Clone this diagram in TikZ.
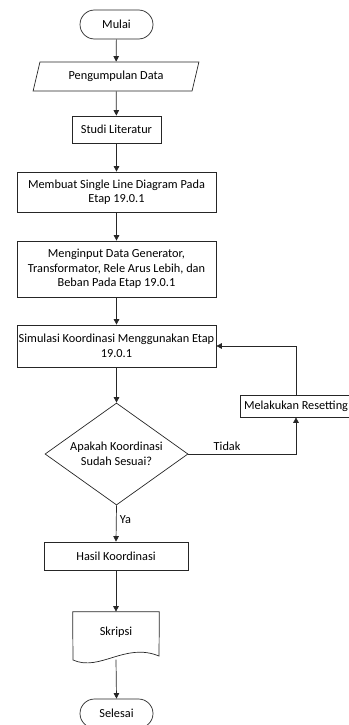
\documentclass[tikz,border=0pt]{standalone}
\usepackage{fontspec}
\setmainfont{Carlito}
\usetikzlibrary{arrows.meta,shapes.geometric}
\begin{document}
\begin{tikzpicture}[x=1pt,y=-1pt,
  font=\fontsize{12.3}{14.5}\selectfont,
  line width=0.7pt, draw=black!85,
  box/.style={draw, rectangle, align=center, inner sep=1pt},
  term/.style={draw, rectangle, rounded corners=14.5pt, minimum width=73pt, minimum height=29pt},
  io/.style={draw, trapezium, trapezium left angle=71, trapezium right angle=109, trapezium stretches=true, minimum width=166pt, minimum height=29pt, inner sep=1pt},
  dec/.style={draw, diamond, shape aspect=1.4, minimum width=143pt, minimum height=102pt, align=center, inner sep=0pt},
  arr/.style={-{Triangle[length=5.5pt,width=5.5pt]}, draw=black!85}
]
\useasboundingbox (0,0) rectangle (348,725);
\node[term] (mulai) at (116.5,24.5) {Mulai};
\node[io] (data) at (116,76.5) {Pengumpulan Data};
\node[box, minimum width=89pt, minimum height=27pt] (studi) at (116.5,129.5) {Studi Literatur};
\node[box, minimum width=199pt, minimum height=40pt] (membuat) at (116.5,192) {Membuat Single Line Diagram Pada\\Etap 19.0.1};
\node[box, minimum width=199pt, minimum height=56pt] (input) at (116.5,269) {Menginput Data Generator,\\Transformator, Rele Arus Lebih, dan\\Beban Pada Etap 19.0.1};
\node[box, minimum width=199pt, minimum height=42pt] (sim) at (116.5,346) {Simulasi Koordinasi Menggunakan Etap\\19.0.1};
\node[dec] (cek) at (116.5,454) {Apakah Koordinasi\\Sudah Sesuai?};
\node[box, minimum width=112pt, minimum height=22pt] (reset) at (296,406) {Melakukan Resetting};
\node[box, minimum width=144pt, minimum height=28pt] (hasil) at (116,556) {Hasil Koordinasi};
% document shape
\node[minimum width=86pt, minimum height=40pt, inner sep=0pt] (skripsi) at (116,632) {Skripsi};
\draw (skripsi.north west) -- (skripsi.north east) -- (159,656)
  .. controls (125,642) and (100,672) .. (73,660) -- cycle;
\coordinate (skripsiB) at (116,659.5);
\node[term] (selesai) at (116.5,713.5) {Selesai};

\draw[arr] (mulai) -- (data);
\draw[arr] (data) -- (studi);
\draw[arr] (studi) -- (membuat);
\draw[arr] (membuat) -- (input);
\draw[arr] (input) -- (sim);
\draw[arr] (sim) -- (cek);
\draw[arr] (cek.east) -- node[above, pos=0.36] {Tidak} (cek.east -| reset) -- (reset.south);
\draw[arr] (reset.north) |- (sim.east);
\draw[arr] (cek.south) -- node[right, pos=0.4] {Ya} (hasil.north);
\draw[arr] (hasil) -- (skripsi.north);
\draw[arr] (skripsiB) -- (selesai.north);
\end{tikzpicture}
\end{document}
